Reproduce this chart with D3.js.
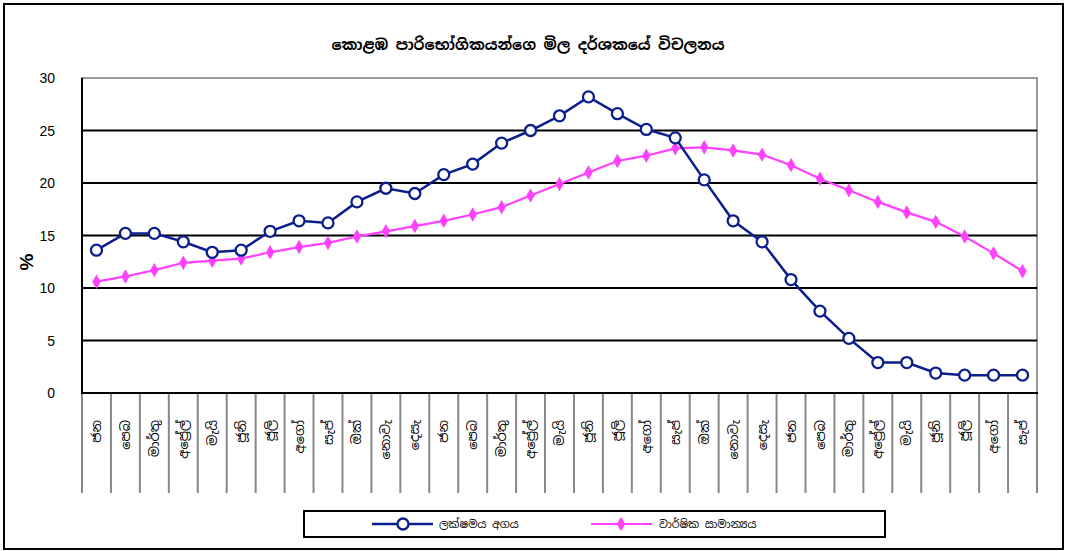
<!DOCTYPE html>
<html>
<head>
<meta charset="utf-8">
<script src="https://cdn.jsdelivr.net/npm/d3@7"></script>
<style>
	body { margin: 0; background: #fff; }
	text { font-family: "Noto Sans Sinhala", "Iskoola Pota", "Liberation Sans", Arial, sans-serif; }
</style>
</head>
<body>
<script>
// 月名 (3年分、ජන～සැප්)
var categories = [
	"ජන", "පෙබ", "මාර්තු", "අප්‍රේල්", "මැයි", "ජූනි", "ජූලි", "අගෝ", "සැප්", "ඔක්", "නොවැ", "දෙසැ",
	"ජන", "පෙබ", "මාර්තු", "අප්‍රේල්", "මැයි", "ජූනි", "ජූලි", "අගෝ", "සැප්", "ඔක්", "නොවැ", "දෙසැ",
	"ජන", "පෙබ", "මාර්තු", "අප්‍රේල්", "මැයි", "ජූනි", "ජූලි", "අගෝ", "සැප්"
];
// ලක්ෂමය අගය
var pointValues = [
	13.6, 15.2, 15.2, 14.4, 13.4, 13.6, 15.4, 16.4, 16.2, 18.2, 19.5, 19.0,
	20.8, 21.8, 23.8, 25.0, 26.4, 28.2, 26.6, 25.1, 24.3, 20.3, 16.4, 14.4,
	10.8, 7.8, 5.2, 2.9, 2.9, 1.9, 1.7, 1.7, 1.7
];
// වාර්ෂික සාමාන්‍යය
var annualAvg = [
	10.6, 11.1, 11.7, 12.4, 12.6, 12.8, 13.4, 13.9, 14.3, 14.9, 15.4, 15.9,
	16.4, 17.0, 17.7, 18.8, 19.9, 21.0, 22.1, 22.6, 23.3, 23.4, 23.1, 22.7,
	21.7, 20.4, 19.3, 18.2, 17.2, 16.3, 14.9, 13.3, 11.6
];
var yTicks = [0, 5, 10, 15, 20, 25, 30];
var seriesNames = ["ලක්ෂමය අගය", "වාර්ෂික සාමාන්‍යය"];
var title = "කොළඹ පාරිභෝගිකයන්ගෙ මිල දර්ශකයේ විචලනය";

var W = 1066, H = 551;
var plot = {left: 82, right: 1037, top: 78, bottom: 393};
var blue = "#0A1E8C", pink = "#FF40FF";

var svg = d3.select("body").append("svg")
	.attr("width", W)
	.attr("height", H);

// 外枠
svg.append("rect")
	.attr("x", 4).attr("y", 4)
	.attr("width", 1059).attr("height", 545)
	.attr("fill", "#fff")
	.attr("stroke", "#000")
	.attr("stroke-width", 2);

// タイトル
svg.append("text")
	.attr("x", 528).attr("y", 50)
	.attr("text-anchor", "middle")
	.style("font-size", "15px")
	.style("font-weight", "bold")
	.text(title);

// スケール
var x = d3.scaleBand()
	.domain(d3.range(categories.length))
	.range([plot.left, plot.right])
	.padding(0);
var y = d3.scaleLinear()
	.domain([0, 30])
	.range([plot.bottom, plot.top]);

// プロットエリア枠(グレー)
svg.append("rect")
	.attr("x", plot.left).attr("y", plot.top)
	.attr("width", plot.right - plot.left)
	.attr("height", plot.bottom - plot.top)
	.attr("fill", "none")
	.attr("stroke", "#999")
	.attr("stroke-width", 2);

// 横グリッド
svg.append("g")
	.selectAll("line")
	.data(yTicks.filter(function(d){ return d > 0 && d < 30; }))
	.enter().append("line")
	.attr("x1", plot.left).attr("x2", plot.right)
	.attr("y1", function(d){ return y(d); })
	.attr("y2", function(d){ return y(d); })
	.attr("stroke", "#000")
	.attr("stroke-width", 2);

// Y軸
var yAxis = d3.axisLeft(y).tickValues(yTicks).tickSize(0).tickPadding(0);
var yg = svg.append("g")
	.attr("transform", "translate(" + plot.left + ",0)")
	.call(yAxis);
yg.select(".domain").remove();
yg.selectAll("text")
	.attr("x", -27)
	.attr("dy", "0.35em")
	.style("font-family", "'Liberation Sans', Arial, sans-serif")
	.style("font-size", "14px")
	.attr("fill", "#000");
svg.append("line")
	.attr("x1", plot.left).attr("x2", plot.left)
	.attr("y1", plot.top).attr("y2", plot.bottom)
	.attr("stroke", "#000").attr("stroke-width", 2);

// Y軸タイトル
svg.append("text")
	.attr("transform", "translate(33,262) rotate(-90)")
	.attr("text-anchor", "middle")
	.style("font-family", "'Liberation Sans', Arial, sans-serif")
	.style("font-size", "19px")
	.style("font-weight", "bold")
	.text("%");

// 区切り線(カテゴリ境界)
var bounds = d3.range(categories.length + 1).map(function(i){
	return i < categories.length ? x(i) : x(i - 1) + x.bandwidth();
});
svg.append("g")
	.selectAll("line")
	.data(bounds)
	.enter().append("line")
	.attr("x1", function(d){ return d; })
	.attr("x2", function(d){ return d; })
	.attr("y1", plot.bottom)
	.attr("y2", 493)
	.attr("stroke", "#888")
	.attr("stroke-width", 2);

// X軸
svg.append("line")
	.attr("x1", plot.left - 1).attr("x2", plot.right + 1)
	.attr("y1", plot.bottom).attr("y2", plot.bottom)
	.attr("stroke", "#000").attr("stroke-width", 2);

// X軸ラベル(-90度回転、下から上へ)
svg.append("g")
	.selectAll("text")
	.data(categories)
	.enter().append("text")
	.attr("transform", function(d, i){
		return "translate(" + (x(i) + x.bandwidth() / 2) + ",420) rotate(-90)";
	})
	.attr("text-anchor", "end")
	.attr("dy", "0.35em")
	.style("font-size", "13px")
	.text(function(d){ return d; });

var cx = function(d, i){ return x(i) + x.bandwidth() / 2; };
var line = d3.line()
	.x(cx)
	.y(function(d){ return y(d); });

// 年平均(ピンク)
svg.append("path")
	.datum(annualAvg)
	.attr("fill", "none")
	.attr("stroke", pink)
	.attr("stroke-width", 2.2)
	.attr("d", line);
var diamond = d3.symbol().type(d3.symbolDiamond).size(60);
svg.append("g")
	.selectAll("path")
	.data(annualAvg)
	.enter().append("path")
	.attr("transform", function(d, i){ return "translate(" + cx(d, i) + "," + y(d) + ")"; })
	.attr("d", diamond)
	.attr("fill", pink);

// 点推定(ブルー)
svg.append("path")
	.datum(pointValues)
	.attr("fill", "none")
	.attr("stroke", blue)
	.attr("stroke-width", 2.5)
	.attr("d", line);
svg.append("g")
	.selectAll("circle")
	.data(pointValues)
	.enter().append("circle")
	.attr("cx", cx)
	.attr("cy", function(d){ return y(d); })
	.attr("r", 5.5)
	.attr("fill", "#fff")
	.attr("stroke", blue)
	.attr("stroke-width", 2.3);

// 凡例
var legend = svg.append("g");
legend.append("rect")
	.attr("x", 304).attr("y", 511)
	.attr("width", 581).attr("height", 26)
	.attr("fill", "#fff")
	.attr("stroke", "#000")
	.attr("stroke-width", 2);
var ly = 524;
legend.append("line")
	.attr("x1", 372).attr("x2", 433).attr("y1", ly).attr("y2", ly)
	.attr("stroke", blue).attr("stroke-width", 2.5);
legend.append("circle")
	.attr("cx", 403).attr("cy", ly).attr("r", 5.5)
	.attr("fill", "#fff").attr("stroke", blue).attr("stroke-width", 2.3);
legend.append("text")
	.attr("x", 439).attr("y", ly).attr("dy", "0.4em")
	.style("font-size", "11px")
	.text(seriesNames[0]);
legend.append("line")
	.attr("x1", 591).attr("x2", 652).attr("y1", ly).attr("y2", ly)
	.attr("stroke", pink).attr("stroke-width", 2.2);
legend.append("path")
	.attr("transform", "translate(621," + ly + ")")
	.attr("d", diamond)
	.attr("fill", pink);
legend.append("text")
	.attr("x", 659).attr("y", ly).attr("dy", "0.4em")
	.style("font-size", "11px")
	.text(seriesNames[1]);
</script>
</body>
</html>
